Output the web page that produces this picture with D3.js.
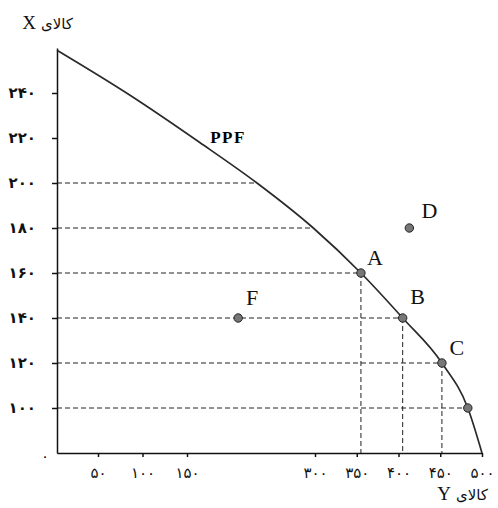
<!DOCTYPE html>
<html>
<head>
<meta charset="utf-8">
<script src="https://cdn.jsdelivr.net/npm/d3@7"></script>
<style>
  body { margin: 0; background: #fff; }
  svg { display: block; }
</style>
</head>
<body>
<script>
// values (Y = کالای Y on the horizontal, X = کالای X on the vertical)
const xTicks = [50, 100, 150, 300, 350, 400, 450, 500];
const yTicks = [100, 120, 140, 160, 180, 200, 220, 240];

// the PPF curve
const ppfY = [0, 86, 165, 232, 298, 355, 405, 452, 483, 500];
const ppfX = [259, 239, 218, 200, 180, 160, 140, 120, 100, 0];

// labelled points
const pointNames = ['A', 'B', 'C', 'D', 'F', ''];
const pointY = [355, 405, 452, 413, 210, 483];
const pointX = [160, 140, 120, 180, 140, 100];

// dashed guides: horizontal ones run from the axis to this Y value
const hGuideX = [200, 180, 160, 140, 120, 100];
const hGuideY = [232, 298, 355, 405, 452, 483];
// vertical ones drop from these points to the axis
const vGuideY = [355, 405, 452];
const vGuideX = [160, 140, 120];

const W = 498, H = 508;
const fa = d => String(d).replace(/\d/g, c => '۰۱۲۳۴۵۶۷۸۹'[c]);

const svg = d3.select('body').append('svg')
    .attr('width', W)
    .attr('height', H);

// broken axes, so the scales are piecewise
const x = d3.scaleLinear()
    .domain([0, 50, 150, 300, 500])
    .range([57, 98, 187, 315, 482]);
const y = d3.scaleLinear()
    .domain([0, 100, 260])
    .range([453, 408, 48]);

// guides
const dash = '5,3';
svg.selectAll('.hguide')
    .data(hGuideX)
    .enter()
    .append('line')
    .attr('class', 'hguide')
    .attr('x1', x(0))
    .attr('x2', (d, i) => x(hGuideY[i]))
    .attr('y1', d => y(d))
    .attr('y2', d => y(d))
    .attr('stroke', '#222')
    .attr('stroke-width', 1)
    .attr('stroke-dasharray', dash);

svg.selectAll('.vguide')
    .data(vGuideY)
    .enter()
    .append('line')
    .attr('class', 'vguide')
    .attr('x1', d => x(d))
    .attr('x2', d => x(d))
    .attr('y1', (d, i) => y(vGuideX[i]))
    .attr('y2', y(0))
    .attr('stroke', '#222')
    .attr('stroke-width', 1)
    .attr('stroke-dasharray', dash);

// axes
const xAxis = svg.append('g')
    .attr('transform', `translate(0,${y(0)})`)
    .call(d3.axisBottom(x).tickValues(xTicks).tickFormat(fa).tickSize(4).tickSizeOuter(0));
xAxis.selectAll('text')
    .attr('dy', '1.2em')
    .style('font-family', '"DejaVu Sans", sans-serif')
    .style('font-size', '15px')
    .style('letter-spacing', '3px')
    .style('fill', '#111');

const yAxis = svg.append('g')
    .attr('transform', `translate(${x(0)},0)`)
    .call(d3.axisLeft(y).tickValues(yTicks).tickFormat(fa).tickSize(5).tickSizeOuter(0));
yAxis.selectAll('text')
    .attr('x', -21)
    .style('font-family', '"DejaVu Sans", sans-serif')
    .style('font-size', '15px')
    .style('font-weight', 'bold')
    .style('fill', '#111');

svg.selectAll('.domain, .tick line')
    .attr('stroke', '#111')
    .attr('stroke-width', 1.5);

// origin
svg.append('text')
    .attr('x', 45)
    .attr('y', 461)
    .attr('text-anchor', 'middle')
    .style('font-family', '"DejaVu Sans", sans-serif')
    .style('font-size', '14px')
    .text(fa(0));

// PPF curve
const line = d3.line()
    .x(d => x(d[0]))
    .y(d => y(d[1]))
    .curve(d3.curveMonotoneX);

svg.append('path')
    .datum(ppfY.map((d, i) => [d, ppfX[i]]))
    .attr('d', line)
    .attr('fill', 'none')
    .attr('stroke', '#2a2a2a')
    .attr('stroke-width', 1.7);

// points
svg.selectAll('.pt')
    .data(pointY)
    .enter()
    .append('circle')
    .attr('class', 'pt')
    .attr('cx', d => x(d))
    .attr('cy', (d, i) => y(pointX[i]))
    .attr('r', 4.2)
    .attr('fill', '#777')
    .attr('stroke', '#222')
    .attr('stroke-width', 1);

// label nudges (dx, dy) from each point
const labelDx = [14, 15, 15, 20, 14, 0];
const labelDy = [-8, -14, -8, -10, -13, 0];
svg.selectAll('.ptlabel')
    .data(pointNames)
    .enter()
    .append('text')
    .attr('class', 'ptlabel')
    .attr('x', (d, i) => x(pointY[i]) + labelDx[i])
    .attr('y', (d, i) => y(pointX[i]) + labelDy[i])
    .attr('text-anchor', 'middle')
    .style('font-family', '"Liberation Serif", serif')
    .style('font-size', '22px')
    .style('fill', '#111')
    .text(d => d);

// PPF label
svg.append('text')
    .attr('x', 228)
    .attr('y', 143)
    .attr('text-anchor', 'middle')
    .style('font-family', '"Liberation Serif", serif')
    .style('font-size', '17px')
    .style('font-weight', 'bold')
    .style('letter-spacing', '1.5px')
    .text('PPF');

// axis titles: Latin letter on the left, Persian word on its right
const titleWords = ['کالای', 'کالای'];
const titleLetters = ['X', 'Y'];
const titleLetterX = [29, 444];
const titleWordX = [41, 456];
const titleBase = [29, 500];

svg.selectAll('.tletter')
    .data(titleLetters)
    .enter()
    .append('text')
    .attr('class', 'tletter')
    .attr('x', (d, i) => titleLetterX[i])
    .attr('y', (d, i) => titleBase[i])
    .attr('text-anchor', 'middle')
    .style('font-family', '"Liberation Serif", serif')
    .style('font-size', '19px')
    .style('fill', '#111')
    .text(d => d);

svg.selectAll('.tword')
    .data(titleWords)
    .enter()
    .append('text')
    .attr('class', 'tword')
    .attr('x', (d, i) => titleWordX[i])
    .attr('y', (d, i) => titleBase[i])
    .attr('text-anchor', 'start')
    .style('font-family', '"DejaVu Sans", sans-serif')
    .style('font-size', '15px')
    .style('fill', '#111')
    .text(d => d);
</script>
</body>
</html>
